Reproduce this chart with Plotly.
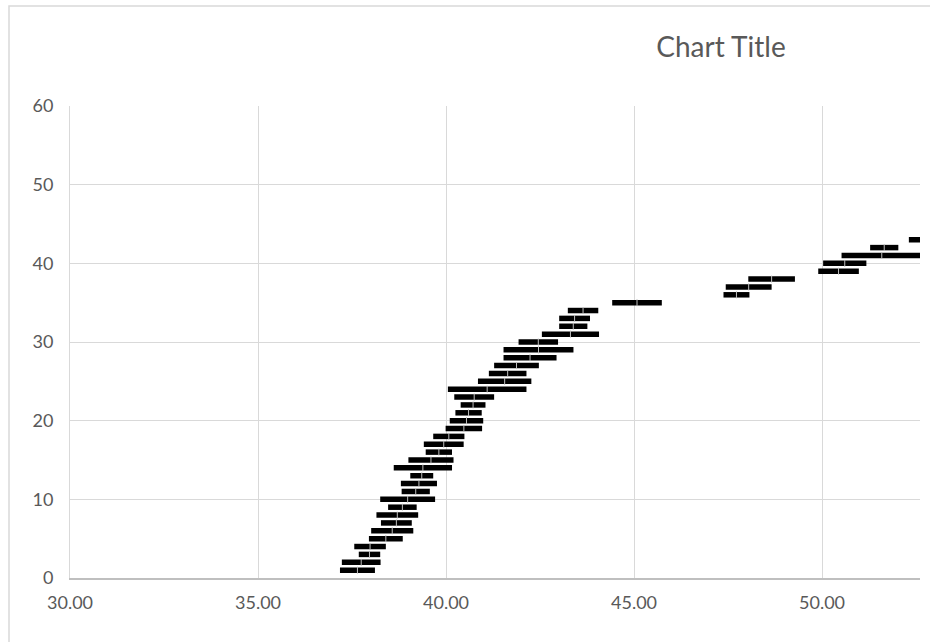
import plotly.graph_objects as go

# Data (row index and horizontal extent of each bar)
rows = list(range(1, 44))
x_start = [37.18, 37.23, 37.68, 37.56, 37.95, 38.01, 38.27, 38.15, 38.46, 38.25,
           38.82, 38.80, 39.05, 38.61, 39.00, 39.46, 39.41, 39.66, 39.99, 40.10,
           40.25, 40.39, 40.22, 40.05, 40.85, 41.14, 41.28, 41.53, 41.53, 41.93,
           42.55, 43.01, 43.01, 43.24, 44.42, 47.38, 47.44, 48.04, 49.90, 50.03,
           50.52, 51.28, 52.31]
x_end = [38.11, 38.26, 38.25, 38.40, 38.85, 39.13, 39.09, 39.26, 39.22, 39.71,
         39.57, 39.76, 39.66, 40.16, 40.20, 40.16, 40.47, 40.49, 40.96, 40.99,
         40.95, 41.05, 41.28, 42.14, 42.27, 42.14, 42.47, 42.94, 43.39, 42.98,
         44.07, 43.76, 43.83, 44.05, 45.74, 48.07, 48.66, 49.28, 50.98, 51.18,
         52.66, 52.03, 53.50]
x_ticks = [30, 35, 40, 45, 50]
y_ticks = [0, 10, 20, 30, 40, 50, 60]
title_text = "Chart Title"

centers = [(a + b) / 2 for a, b in zip(x_start, x_end)]
half = [(b - a) / 2 for a, b in zip(x_start, x_end)]

W, H = 930, 642
L, R, T, B = 70, 10, 106, 64
pw, ph = W - L - R, H - T - B

def px_x(p):
    return (p - L) / pw

def px_y(p):
    return 1 - (p - T) / ph

grey_text = "#595959"
grid = "#d9d9d9"
font = "Lato, 'Open Sans', sans-serif"

fig = go.Figure()
fig.add_trace(go.Scatter(
    x=centers, y=rows, mode="markers",
    marker=dict(symbol="line-ns", size=5, color="#bdbdbd",
                line=dict(color="#bdbdbd", width=1)),
    error_x=dict(type="data", array=half, symmetric=True,
                 color="black", thickness=5.5, width=0),
    showlegend=False, hoverinfo="skip",
))

fig.update_layout(
    width=W, height=H,
    margin=dict(l=L, r=R, t=T, b=B, autoexpand=False),
    paper_bgcolor="white", plot_bgcolor="white",
    title=dict(text=title_text, x=721 / W, xref="container",
               xanchor="center", y=1 - 47 / H, yanchor="middle",
               font=dict(family=font, size=28, color=grey_text)),
    xaxis=dict(range=[30, 30 + pw / 37.6], tickvals=x_ticks, tickformat=".2f",
               showgrid=True, gridcolor=grid, gridwidth=1,
               showline=True, linecolor="#bfbfbf", linewidth=1.5,
               zeroline=False, ticks="", ticklabelstandoff=8, automargin=False,
               tickfont=dict(family=font, size=18, color=grey_text)),
    yaxis=dict(range=[0, 60], tickvals=y_ticks,
               showgrid=True, gridcolor=grid, gridwidth=1,
               showline=True, linecolor=grid, linewidth=1,
               zeroline=False, ticks="", ticklabelstandoff=12, automargin=False,
               tickfont=dict(family=font, size=18, color=grey_text)),
    shapes=[
        dict(type="path", xref="paper", yref="paper",
             path=f"M {px_x(9)},{px_y(660)} L {px_x(9)},{px_y(6)} L {px_x(960)},{px_y(6)}",
             line=dict(color=grid, width=1.5), layer="below"),
    ],
)

fig.write_html("out.html", config={"displayModeBar": False},
               post_script="document.body.style.margin='0';document.body.style.overflow='hidden';")
